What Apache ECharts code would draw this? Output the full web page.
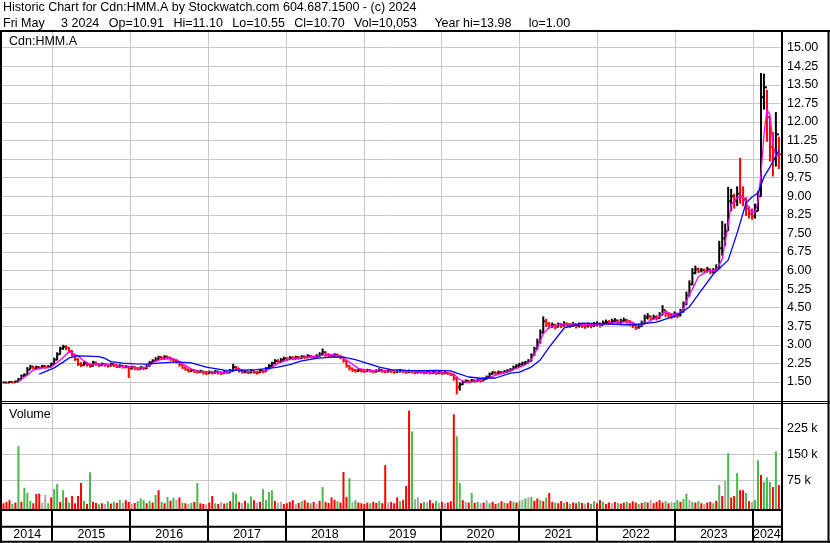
<!DOCTYPE html>
<html><head><meta charset="utf-8">
<script src="https://cdn.jsdelivr.net/npm/echarts@6.0.0/dist/echarts.min.js"></script>
<style>html,body{margin:0;padding:0;background:#fff}#c{width:830px;height:543px}</style>
</head><body><div id="c"></div>
<script>
// ---- DATA (bi-weekly bars, 2014-05-16 .. 2024-05-03) ----
const closeP = [
1.48,1.47,1.50,1.48,1.52,1.60,1.75,1.78,2.00,2.12,2.05,2.10,2.08,2.14,2.10,2.12,2.22,
2.40,2.62,2.85,2.92,2.88,2.75,2.60,2.42,2.22,2.18,2.25,2.20,2.15,2.28,2.22,2.18,2.22,2.20,2.15,2.22,2.18,2.12,2.15,2.10,2.12,2.05,
2.10,2.05,2.02,2.08,2.05,2.15,2.28,2.35,2.42,2.50,2.45,2.52,2.48,2.42,2.38,2.32,2.20,2.08,2.00,1.95,1.98,1.92,1.90,1.93,1.88,1.85,
1.90,1.87,1.92,1.88,1.85,1.90,1.88,1.95,2.10,2.05,1.95,1.90,1.92,1.88,1.93,1.90,1.88,1.95,1.92,2.05,2.15,2.25,2.35,2.32,2.40,2.45,
2.42,2.48,2.45,2.50,2.47,2.52,2.50,2.55,2.52,2.48,2.55,2.62,2.70,2.60,2.58,2.55,2.60,2.55,2.50,2.35,2.15,2.05,1.98,1.95,1.98,1.95,
1.93,1.97,1.95,1.92,1.95,1.98,1.94,1.92,1.95,1.93,1.90,1.93,1.95,1.92,1.90,1.93,1.91,1.88,1.92,1.90,1.88,1.90,1.87,1.89,1.86,1.88,
1.85,1.87,1.84,1.80,1.65,1.30,1.40,1.50,1.55,1.52,1.56,1.54,1.58,1.55,1.62,1.70,1.82,1.88,1.85,1.90,1.88,1.92,1.95,2.00,2.10,2.15,
2.20,2.25,2.28,2.35,2.60,2.85,3.10,3.50,3.95,3.85,3.75,3.80,3.72,3.82,3.78,3.85,3.80,3.78,3.82,3.76,3.80,3.78,3.75,3.80,3.77,3.82,
3.85,3.80,3.88,3.92,3.90,3.95,3.98,3.92,3.95,4.00,3.95,3.90,3.80,3.70,3.75,3.85,4.10,4.15,4.05,4.12,4.08,4.20,4.40,4.25,4.20,4.15,
4.25,4.18,4.35,4.65,5.00,5.45,5.90,6.05,6.00,6.02,5.98,6.05,5.95,6.00,6.10,6.90,7.30,7.60,8.80,9.00,8.80,9.10,9.00,8.90,8.50,8.30,
8.20,8.40,9.00,13.00,13.40,12.20,11.00,10.50,11.50,10.70];
const highP = [
1.52,1.51,1.54,1.52,1.56,1.66,1.80,1.85,2.10,2.19,2.15,2.16,2.14,2.19,2.17,2.18,2.28,
2.48,2.70,2.92,3.00,2.98,2.90,2.78,2.62,2.45,2.30,2.32,2.30,2.25,2.35,2.32,2.26,2.28,2.27,2.24,2.28,2.26,2.22,2.22,2.20,2.18,2.15,
2.16,2.14,2.10,2.14,2.12,2.20,2.35,2.42,2.50,2.56,2.55,2.58,2.56,2.52,2.46,2.42,2.35,2.22,2.12,2.05,2.04,2.00,1.98,1.99,1.95,1.93,
1.96,1.94,1.98,1.95,1.92,1.96,1.95,2.02,2.23,2.15,2.06,1.98,1.98,1.95,1.99,1.97,1.95,2.00,1.99,2.10,2.22,2.32,2.42,2.42,2.46,2.52,
2.50,2.55,2.54,2.56,2.55,2.58,2.57,2.62,2.60,2.56,2.62,2.70,2.85,2.74,2.66,2.63,2.66,2.64,2.60,2.52,2.38,2.18,2.08,2.03,2.04,2.02,
2.00,2.03,2.02,1.98,2.01,2.05,2.00,1.98,2.02,1.99,1.97,1.99,2.02,1.98,1.96,2.00,1.98,1.95,1.98,1.96,1.94,1.96,1.93,1.95,1.92,1.94,
1.91,1.93,1.90,1.88,1.82,1.66,1.48,1.56,1.60,1.58,1.62,1.60,1.63,1.61,1.68,1.76,1.88,1.94,1.92,1.96,1.94,1.98,2.02,2.06,2.16,2.22,
2.27,2.32,2.35,2.42,2.65,2.92,3.25,3.62,4.15,4.05,3.92,3.90,3.85,3.90,3.88,3.95,3.90,3.88,3.92,3.86,3.90,3.88,3.85,3.90,3.87,3.92,
3.95,3.90,3.98,4.02,4.00,4.05,4.08,4.02,4.05,4.10,4.05,4.00,3.92,3.82,3.85,3.98,4.22,4.28,4.18,4.22,4.20,4.32,4.60,4.40,4.30,4.28,
4.35,4.30,4.45,4.75,5.15,5.60,6.10,6.20,6.12,6.10,6.08,6.15,6.08,6.10,6.25,7.20,8.00,7.90,9.38,9.30,9.10,9.40,10.55,9.40,8.95,8.60,
8.50,8.70,9.20,13.98,13.95,13.30,12.20,11.60,12.40,11.40];
const lowP = [
1.44,1.43,1.45,1.44,1.47,1.52,1.62,1.72,1.78,2.00,2.00,2.02,2.01,2.05,2.03,2.05,2.10,
2.20,2.38,2.60,2.80,2.78,2.68,2.52,2.35,2.15,2.10,2.15,2.12,2.08,2.12,2.15,2.10,2.14,2.12,2.08,2.12,2.10,2.06,2.08,2.04,2.05,1.66,
2.00,1.98,1.96,2.00,1.98,2.02,2.12,2.25,2.30,2.38,2.38,2.40,2.40,2.35,2.30,2.25,2.12,2.02,1.95,1.88,1.90,1.86,1.84,1.86,1.80,1.78,
1.82,1.80,1.84,1.80,1.78,1.82,1.82,1.86,1.92,1.96,1.88,1.84,1.85,1.82,1.85,1.83,1.80,1.86,1.85,1.90,2.02,2.12,2.22,2.25,2.28,2.36,
2.35,2.38,2.38,2.40,2.40,2.42,2.43,2.45,2.45,2.42,2.45,2.50,2.58,2.52,2.50,2.48,2.50,2.48,2.42,2.28,2.08,1.96,1.90,1.88,1.90,1.88,
1.86,1.90,1.88,1.85,1.88,1.90,1.87,1.85,1.88,1.86,1.83,1.86,1.88,1.85,1.83,1.86,1.84,1.81,1.85,1.83,1.81,1.83,1.80,1.82,1.79,1.81,
1.79,1.81,1.78,1.74,1.55,1.00,1.15,1.38,1.46,1.45,1.48,1.47,1.50,1.48,1.53,1.60,1.68,1.80,1.79,1.82,1.81,1.85,1.88,1.92,1.98,2.05,
2.12,2.18,2.20,2.25,2.32,2.55,2.80,3.05,3.45,3.72,3.65,3.68,3.62,3.70,3.68,3.74,3.70,3.68,3.72,3.66,3.70,3.68,3.65,3.70,3.67,3.72,
3.75,3.70,3.78,3.82,3.80,3.85,3.88,3.82,3.85,3.90,3.85,3.78,3.68,3.60,3.65,3.72,3.85,4.02,3.95,4.00,3.98,4.05,4.20,4.12,4.08,4.05,
4.10,4.08,4.15,4.30,4.60,4.95,5.40,5.85,5.90,5.92,5.88,5.92,5.85,5.88,5.95,6.05,6.60,7.00,7.60,8.40,8.50,8.60,8.70,8.60,8.20,8.10,
8.05,8.10,8.40,9.00,12.50,11.20,10.40,9.80,10.20,10.10];
// volume in thousands, colour code r = down, g = up, n = unchanged
const volK = [
8,12,17,6,10,174,12,53,38,15,8,35,36,10,32,8,25,
49,64,12,46,25,10,29,8,29,67,15,6,98,12,9,5,8,6,14,7,12,9,18,10,17,12,
6,9,14,22,17,8,15,10,32,46,12,8,26,15,24,18,25,10,8,6,9,12,67,8,6,5,
10,29,8,6,12,7,9,14,40,36,12,9,15,8,28,17,10,12,49,18,41,46,15,10,12,6,
8,12,17,6,9,14,17,10,8,12,6,15,55,12,9,25,18,14,10,99,26,81,12,17,10,8,
6,10,8,12,9,14,8,119,10,12,8,25,14,18,58,278,217,20,26,8,12,10,17,8,15,10,
12,8,10,14,267,203,67,17,12,10,38,9,12,8,10,17,8,12,6,9,14,10,8,15,12,10,
14,18,22,25,26,15,22,17,14,25,38,12,10,8,14,9,12,6,10,8,12,9,7,10,6,14,
8,17,12,6,10,8,12,9,7,10,12,8,14,10,6,9,12,10,17,8,12,17,10,14,8,12,
10,17,12,20,36,18,12,10,14,8,6,10,12,8,15,61,29,73,154,25,29,96,46,46,38,14,
12,17,133,90,70,83,70,55,159,61];
const volDir = "rrrgrgrgggrrrnngr" + "ggrgrgrrrrgrgrrgrngrgrgnrr" + "nrgggrgrgrgrgrgnrgrngrgrrn" +
  "rrgrnrgrggrnrggrnrggggrnnr" + "rrrnrgrrgrnrgrrrrgrrrgngrr" + "rrgrrgrrnrrrgrrrgnnrgnrrgn" +
  "rnrrrggrnrgrgnrngrrgrgrrgr" + "gngngrrgrgrrgrrgrgrrgrnrgg" + "rrgrrnrgrrgrrrgrgrnrrrrgrn" +
  "ggrggngrgrnrrgrgrngrrgrrgr" + "nggrgggrgr";
// moving averages: [bar index, value]
const ma1Pts = [[5,1.52],[6,1.60],[8,1.78],[10,1.98],[13,2.07],[16,2.10],[19,2.39],[22,2.72],[25,2.55],[27,2.35],[29,2.22],
[32,2.22],[35,2.19],[38,2.16],[41,2.12],[43,2.10],[46,2.06],[48,2.10],[51,2.35],[55,2.47],[58,2.40],[60,2.24],[63,2.02],[66,1.93],
[71,1.90],[75,1.89],[77,1.98],[79,2.02],[82,1.93],[87,1.92],[89,2.02],[92,2.25],[96,2.42],[100,2.48],[104,2.52],[107,2.58],[110,2.60],
[113,2.55],[116,2.30],[119,2.05],[122,1.97],[126,1.95],[130,1.94],[135,1.93],[140,1.91],[144,1.88],[148,1.87],[151,1.82],[153,1.60],
[155,1.48],[158,1.53],[163,1.70],[168,1.88],[172,2.05],[175,2.19],[177,2.40],[179,2.85],[181,3.45],[183,3.72],[186,3.80],[189,3.86],
[194,3.80],[200,3.82],[206,3.92],[210,3.94],[212,3.85],[214,3.78],[216,3.92],[218,4.05],[220,4.15],[222,4.35],[224,4.25],[226,4.22],
[228,4.45],[229,4.75],[230,5.05],[231,5.25],[233,5.75],[236,5.98],[239,6.02],[241,6.45],[243,7.85],[244,8.65],[246,8.95],[248,8.97],
[250,8.50],[251,8.35],[252,8.35],[253,8.80],[254,9.90],[255,11.50],[256,12.50],[257,12.30],[258,11.10],[259,10.60],[260,10.70]];
const ma2Pts = [[12,1.82],[14,1.92],[17,2.07],[20,2.30],[22,2.47],[25,2.55],[28,2.54],[32,2.52],[34,2.45],[36,2.32],[40,2.26],[44,2.23],
[48,2.22],[53,2.27],[58,2.31],[63,2.27],[68,2.10],[74,1.98],[78,1.97],[85,2.00],[89,2.05],[92,2.10],[96,2.20],[100,2.35],[105,2.45],
[110,2.50],[114,2.50],[118,2.40],[122,2.25],[126,2.10],[130,2.00],[135,1.97],[140,1.96],[145,1.97],[150,1.95],[152,1.86],[156,1.70],
[160,1.65],[165,1.66],[170,1.86],[173,1.90],[177,2.10],[180,2.39],[183,2.91],[188,3.68],[194,3.88],[203,3.84],[211,3.80],[219,3.92],
[226,4.20],[230,4.53],[234,5.20],[238,5.85],[243,6.42],[246,7.51],[249,8.73],[251,8.97],[253,9.13],[255,9.78],[257,10.18],[260,10.85]];
const yearLabels = ['2014','2015','2016','2017','2018','2019','2020','2021','2022','2023','2024'];
const title1 = 'Historic Chart for Cdn:HMM.A by Stockwatch.com 604.687.1500 - (c) 2024';
const G2 = '\u00a0\u00a0\u2009', G4 = '\u00a0\u00a0\u00a0\u00a0', G5 = '\u00a0\u00a0\u00a0\u00a0\u00a0';
const title2 = 'Fri\u00a0May' + G4 + '\u2009' + '3\u00a02024' + G2 + 'Op=10.91' + G2 + 'Hi=11.10' + G2 + 'Lo=10.55' + G2 +
  'Cl=10.70' + G2 + 'Vol=10,053' + G5 + 'Year\u00a0hi=13.98' + G5 + 'lo=1.00';

// ---- build ----
const DAY = 86400000;
const t0 = Date.UTC(2014, 4, 16);
const dates = closeP.map((_, i) => t0 + i * 14 * DAY);
const xMin = Date.UTC(2014, 4, 9), xMax = Date.UTC(2024, 4, 13);
const yearStarts = [];
for (let y = 2015; y <= 2024; y++) yearStarts.push(Date.UTC(y, 0, 1));
const bounds = [xMin].concat(yearStarts, [xMax]);
const yearMids = yearLabels.map((_, i) => (bounds[i] + bounds[i + 1]) / 2);

const FONT = 'Arial, "Liberation Sans", sans-serif';
const nb = s => s.replace(/ /g, '\u00a0');
const priceData = dates.map((t, i) => [t, lowP[i], highP[i], closeP[i], (i > 0 && closeP[i] < closeP[i - 1]) ? 1 : 0]);
const dirIdx = { r: 0, g: 1, n: 2 };
const volColors = ['#ff0000', '#4cb84c', '#a8a8a8'];
const volData = dates.map((t, i) => [t, volK[i], dirIdx[volDir[i]]]);

function vgrid(color, width, extra) {
  return function (params, api) {
    const p = api.coord([api.value(0), 0]);
    const cs = params.coordSys;
    const x = Math.round(p[0]) + 0.5 * (width % 2);
    return { type: 'line', shape: { x1: x, y1: cs.y, x2: x, y2: cs.y + cs.height + extra },
      style: { stroke: color, lineWidth: width } };
  };
}

const chart = echarts.init(document.getElementById('c'), null, { renderer: 'canvas' });
const xAx = (gi) => ({ type: 'time', gridIndex: gi, min: xMin, max: xMax, show: false });
chart.setOption({
  animation: false,
  backgroundColor: '#fff',
  grid: [
    { left: 2, width: 779, top: 29.13, height: 371.4 },
    { left: 2, width: 779, top: 402.9, height: 103.1 },
    { left: 2, width: 779, top: 510, height: 32 }
  ],
  xAxis: [xAx(0), xAx(1), xAx(2)],
  yAxis: [
    { type: 'value', gridIndex: 0, position: 'right', min: 0.75, max: 15.75, interval: 0.75,
      axisLine: { show: false }, axisTick: { show: false },
      axisLabel: { margin: 6, color: '#000', fontFamily: FONT, fontSize: 12.5, showMinLabel: false, showMaxLabel: false,
        formatter: v => v.toFixed(2) },
      splitLine: { show: true, showMinLine: false, showMaxLine: false, lineStyle: { color: '#c8c8c8', width: 1 } } },
    { type: 'value', gridIndex: 1, position: 'right', min: 0, max: 300, interval: 75,
      axisLine: { show: false }, axisTick: { show: false },
      axisLabel: { margin: 6, color: '#000', fontFamily: FONT, fontSize: 12.5, showMinLabel: false, showMaxLabel: false,
        formatter: v => v + ' k' },
      splitLine: { show: true, showMinLine: false, showMaxLine: false, lineStyle: { color: '#c8c8c8', width: 1 } } },
    { type: 'value', gridIndex: 2, min: 0, max: 2, show: false }
  ],
  series: [
    { type: 'custom', xAxisIndex: 0, yAxisIndex: 0, z: 1, silent: true, clip: false,
      data: yearStarts.map(t => [t, 1]), renderItem: vgrid('#c8c8c8', 1, 0) },
    { type: 'custom', xAxisIndex: 1, yAxisIndex: 1, z: 1, silent: true, clip: false,
      data: yearStarts.map(t => [t, 1]), renderItem: vgrid('#c8c8c8', 1, 3) },
    { type: 'custom', xAxisIndex: 2, yAxisIndex: 2, z: 1, silent: true, clip: false,
      data: yearStarts.map(t => [t, 1]), renderItem: vgrid('#000', 2, 0) },
    { type: 'custom', name: 'price', xAxisIndex: 0, yAxisIndex: 0, z: 3, silent: true,
      encode: { x: 0, y: [1, 2] },
      data: priceData,
      renderItem: function (params, api) {
        const t = api.value(0);
        const lo = api.coord([t, api.value(1)]);
        const hi = api.coord([t, api.value(2)]);
        const cl = api.coord([t, api.value(3)]);
        const col = api.value(4) === 1 ? '#ff0000' : '#000000';
        return { type: 'group', children: [
          { type: 'rect', shape: { x: lo[0] - 1, y: hi[1], width: 2, height: Math.max(1.5, lo[1] - hi[1]) }, style: { fill: col } },
          { type: 'rect', shape: { x: cl[0] + 1, y: cl[1] - 1, width: 2, height: 2 }, style: { fill: col } }
        ] };
      } },
    { type: 'line', name: 'ma1', xAxisIndex: 0, yAxisIndex: 0, z: 4, silent: true, showSymbol: false, symbol: 'none',
      data: ma1Pts.map(p => [dates[p[0]], p[1]]), lineStyle: { color: '#ff00ff', width: 1.3 } },
    { type: 'line', name: 'ma2', xAxisIndex: 0, yAxisIndex: 0, z: 5, silent: true, showSymbol: false, symbol: 'none',
      data: ma2Pts.map(p => [dates[p[0]], p[1]]), lineStyle: { color: '#0000ff', width: 1.3 } },
    { type: 'custom', name: 'volume', xAxisIndex: 1, yAxisIndex: 1, z: 3, silent: true, clip: false,
      encode: { x: 0, y: 1 },
      data: volData,
      renderItem: function (params, api) {
        const p = api.coord([api.value(0), api.value(1)]);
        const cs = params.coordSys;
        const base = cs.y + cs.height + 3;
        return { type: 'rect', shape: { x: p[0] - 1, y: p[1], width: 2, height: base - p[1] },
          style: { fill: volColors[api.value(2)] } };
      } },
    { type: 'custom', name: 'years', xAxisIndex: 2, yAxisIndex: 2, z: 3, silent: true, clip: false,
      data: yearMids.map(t => [t, 0.45]),
      renderItem: function (params, api) {
        const p = api.coord([api.value(0), api.value(1)]);
        return { type: 'text', x: p[0], y: p[1],
          style: { text: yearLabels[params.dataIndex], fill: '#000', font: '12.5px ' + FONT, align: 'center', verticalAlign: 'middle' } };
      } }
  ],
  graphic: [
    { type: 'text', x: 3, y: 1, z: 10, style: { text: nb(title1), fill: '#000', font: '12.5px ' + FONT, verticalAlign: 'top' } },
    { type: 'text', x: 3, y: 17, z: 10, style: { text: title2, fill: '#000', font: '12.5px ' + FONT, verticalAlign: 'top' } },
    { type: 'text', x: 9, y: 35, z: 10, style: { text: 'Cdn:HMM.A', fill: '#000', font: '12.5px ' + FONT, verticalAlign: 'top' } },
    { type: 'text', x: 9, y: 408.5, z: 10, style: { text: 'Volume', fill: '#000', font: '12.5px ' + FONT, verticalAlign: 'top' } },
    { type: 'line', z: 20, shape: { x1: 0, y1: 31, x2: 830, y2: 31 }, style: { stroke: '#000', lineWidth: 2 } },
    { type: 'line', z: 20, shape: { x1: 1, y1: 30, x2: 1, y2: 543 }, style: { stroke: '#000', lineWidth: 2 } },
    { type: 'line', z: 20, shape: { x1: 828.5, y1: 30, x2: 828.5, y2: 543 }, style: { stroke: '#000', lineWidth: 2 } },
    { type: 'line', z: 20, shape: { x1: 782, y1: 30, x2: 782, y2: 543 }, style: { stroke: '#000', lineWidth: 2 } },
    { type: 'line', z: 20, shape: { x1: 0, y1: 401.5, x2: 830, y2: 401.5 }, style: { stroke: '#000', lineWidth: 1 } },
    { type: 'line', z: 20, shape: { x1: 0, y1: 403.5, x2: 830, y2: 403.5 }, style: { stroke: '#000', lineWidth: 1 } },
    { type: 'line', z: 20, shape: { x1: 0, y1: 510, x2: 782, y2: 510 }, style: { stroke: '#000', lineWidth: 2 } },
    { type: 'line', z: 20, shape: { x1: 0, y1: 526.7, x2: 782, y2: 526.7 }, style: { stroke: '#000', lineWidth: 2 } },
    { type: 'line', z: 20, shape: { x1: 0, y1: 541.7, x2: 830, y2: 541.7 }, style: { stroke: '#000', lineWidth: 2 } }
  ]
});
</script>
</body></html>
